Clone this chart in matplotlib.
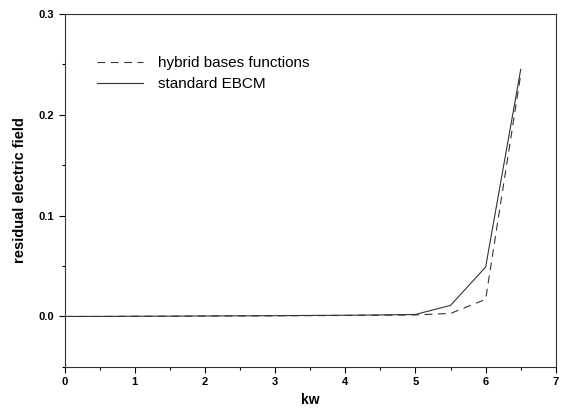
import numpy as np
import matplotlib.pyplot as plt
from matplotlib.ticker import MultipleLocator

plt.rcParams['font.family'] = ['Liberation Sans', 'DejaVu Sans']

# residual electric field versus kw for both methods
kw = [0.0, 0.5, 1.0, 1.5, 2.0, 2.5, 3.0, 3.5, 4.0, 4.5, 5.0, 5.5, 6.0, 6.5]
hybrid = [0.0, 0.0, 0.0002, 0.0002, 0.0004, 0.0005, 0.0006, 0.0008, 0.001,
          0.0012, 0.0015, 0.003, 0.017, 0.24]
standard = [0.0, 0.0, 0.0002, 0.0003, 0.0005, 0.0006, 0.0008, 0.001, 0.0012,
            0.0015, 0.002, 0.011, 0.049, 0.245]

labels = ["hybrid bases functions", "standard EBCM"]

fig = plt.figure(figsize=(5.62, 4.09), dpi=100)
ax = fig.add_axes([0.115, 0.103, 0.874, 0.863])

ax.plot(kw, hybrid, color="#333333", lw=0.8, linestyle=(0, (7, 5)), label=labels[0])
ax.plot(kw, standard, color="#333333", lw=0.8, label=labels[1])

ax.set_xlim(0, 7)
ax.set_ylim(-0.05, 0.3)
ax.xaxis.set_major_locator(MultipleLocator(1))
ax.xaxis.set_minor_locator(MultipleLocator(0.5))
ax.yaxis.set_major_locator(MultipleLocator(0.1))
ax.yaxis.set_minor_locator(MultipleLocator(0.05))
ax.yaxis.set_major_formatter(plt.FuncFormatter(lambda v, p: f"{v:.1f}"))

ax.tick_params(which="major", direction="out", length=4, width=0.8,
               labelsize=8)
ax.tick_params(which="minor", direction="out", length=2.5, width=0.8)
for lbl in ax.get_xticklabels() + ax.get_yticklabels():
    lbl.set_fontweight("bold")
for s in ax.spines.values():
    s.set_linewidth(0.8)
    s.set_color("#333333")

ax.set_xlabel("kw", fontsize=10, fontweight="bold", labelpad=4)
ax.set_ylabel("residual electric field", fontsize=10.5, fontweight="bold", labelpad=8)

ax.legend(loc="upper left", bbox_to_anchor=(0.038, 0.919), frameon=False,
          fontsize=11, handlelength=3.0, handletextpad=1.0, labelspacing=0.45,
          borderpad=0.4)

fig.savefig("out.png", dpi=100)
